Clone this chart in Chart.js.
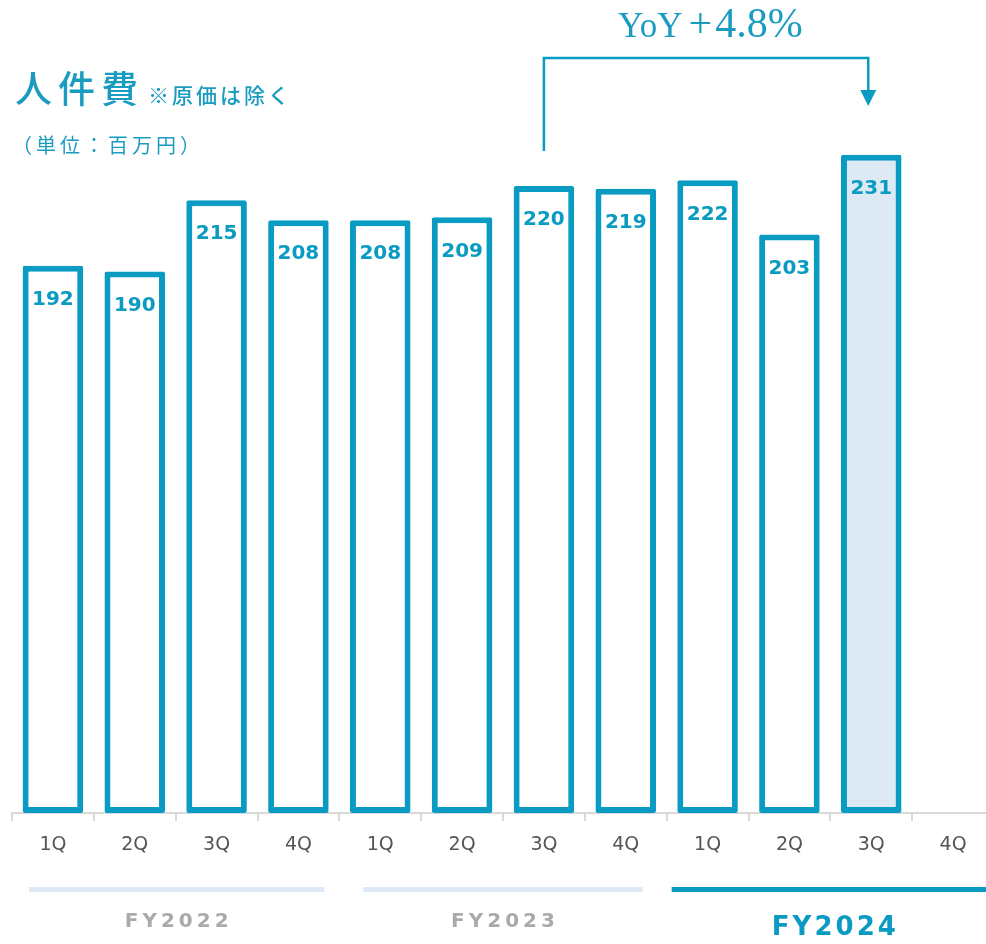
<!DOCTYPE html>
<html>
<head>
<meta charset="utf-8">
<script src="https://cdn.jsdelivr.net/npm/chart.js@4"></script>
<style>
  body { margin: 0; overflow: hidden; background: #fff; width: 986px; height: 944px; position: relative; }
  #wrap { position: absolute; left: 0; top: 0; width: 1000px; height: 944px; }
  .title { position: absolute; left: 15px; top: 60px; color: #1a9cc0; font-family: "Noto Sans CJK JP", sans-serif; font-weight: 500; font-size: 37px; letter-spacing: 6px; white-space: nowrap; }
  .title small { font-size: 21px; letter-spacing: 3px; margin-left: 4px; font-weight: 500; }
  .unit { position: absolute; left: 12px; top: 130px; color: #1a9cc0; font-family: "Noto Sans CJK JP", sans-serif; font-size: 20px; letter-spacing: 4px; }
  .yoy { position: absolute; left: 618px; top: -1px; color: #1a9cc0; font-family: "Liberation Serif", serif; font-size: 35px; white-space: nowrap; }
  .yoy i { font-style: normal; font-size: 42px; margin: 0 3px 0 6px; }
  .yoy b { font-weight: normal; font-size: 42px; }
</style>
</head>
<body>
<div id="wrap"><canvas id="chart" width="1000" height="944"></canvas></div>
<div class="title">人件費<small>※原価は除く</small></div>
<div class="unit">（単位：百万円）</div>
<div class="yoy">YoY<i>+</i><b>4.8%</b></div>
<script>
let quarters = ['1Q','2Q','3Q','4Q','1Q','2Q','3Q','4Q','1Q','2Q','3Q','4Q']
let costs = [192, 190, 215, 208, 208, 209, 220, 219, 222, 203, 231, null]
let years = ['FY2022', 'FY2023', 'FY2024']

let teal = '#0a9bc2'
let pale = '#dde9f5'

// labels inside bars, year bands, yoy bracket
let extras = {
    id: 'extras',
    afterDatasetsDraw(chart) {
        let ctx = chart.ctx
        let meta = chart.getDatasetMeta(0)
        ctx.save()
        ctx.fillStyle = teal
        ctx.font = 'bold 20px "DejaVu Sans"'
        ctx.textAlign = 'center'
        ctx.textBaseline = 'middle'
        meta.data.forEach((bar, i) => {
            if (costs[i] == null) return
            ctx.fillText(costs[i], bar.x, bar.y + 34)
        })

        let x = chart.scales.x
        let half = (x.getPixelForValue(1) - x.getPixelForValue(0)) / 2
        let insets = [[17, 15], [24, 24], [5, 0]]
        years.forEach((yr, k) => {
            let left = x.getPixelForValue(k * 4) - half
            let right = x.getPixelForValue(k * 4 + 3) + half
            let last = k == years.length - 1
            ctx.fillStyle = last ? teal : pale
            let l = left + insets[k][0]
            let r = last ? chart.width : right - insets[k][1]
            ctx.fillRect(l, 887, r - l, 5)
            ctx.fillStyle = last ? teal : '#aaaaaa'
            ctx.font = last ? 'bold 26px "DejaVu Sans"' : 'bold 20px "DejaVu Sans"'
            ctx.letterSpacing = last ? '3px' : '4px'
            ctx.fillText(yr, last ? (left + right) / 2 + 5 : (l + r) / 2 + 2, last ? 928 : 922)
        })
        ctx.letterSpacing = '0px'

        // yoy bracket from 3Q FY2023 to 3Q FY2024
        let x1 = x.getPixelForValue(6)
        let x2 = x.getPixelForValue(10) - 3
        ctx.strokeStyle = teal
        ctx.lineWidth = 2.5
        ctx.beginPath()
        ctx.moveTo(x1, 151)
        ctx.lineTo(x1, 58)
        ctx.lineTo(x2, 58)
        ctx.lineTo(x2, 94)
        ctx.stroke()
        ctx.fillStyle = teal
        ctx.beginPath()
        ctx.moveTo(x2 - 8, 90)
        ctx.lineTo(x2 + 8, 90)
        ctx.lineTo(x2, 106)
        ctx.closePath()
        ctx.fill()
        ctx.restore()
    }
}

new Chart(document.getElementById('chart'), {
    type: 'bar',
    data: {
        labels: quarters,
        datasets: [{
            data: costs,
            backgroundColor: costs.map((v, i) => i == 10 ? pale : '#ffffff'),
            borderColor: teal,
            borderWidth: 6,
            borderRadius: 2,
            borderSkipped: false,
            barPercentage: 0.74,
            categoryPercentage: 1
        }]
    },
    options: {
        responsive: false,
        animation: false,
        layout: { padding: { left: 12, right: 6, top: 129, bottom: 0 } },
        plugins: { legend: { display: false }, tooltip: { enabled: false } },
        scales: {
            y: { display: false, min: 0, max: 240 },
            x: {
                afterFit(scale) { scale.height = 131 },
                grid: { offset: true, drawOnChartArea: false, tickLength: 8, color: '#d9d9d9', lineWidth: 2 },
                border: { color: '#d9d9d9', width: 2 },
                ticks: { color: '#555555', font: { family: 'DejaVu Sans', size: 19 }, padding: 13 }
            }
        }
    },
    plugins: [extras]
})
</script>
</body>
</html>
